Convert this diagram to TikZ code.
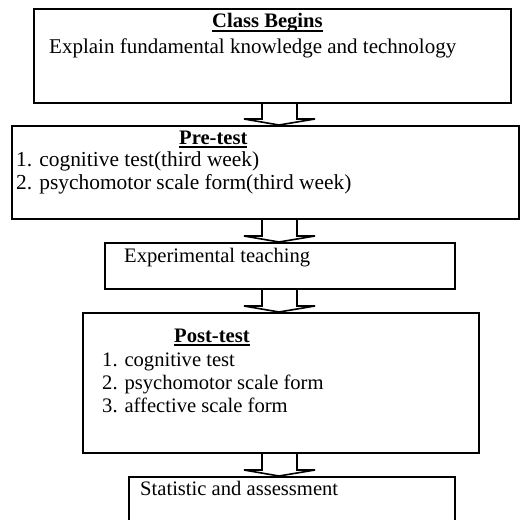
\documentclass[tikz,border=0pt]{standalone}
\usepackage{fontspec}
\setmainfont{Liberation Serif}
\newcommand\ulx[1]{\setbox0\hbox{#1}\rlap{\rule[-3.5pt]{\wd0}{1.4pt}}\box0}
\begin{document}
\begin{tikzpicture}[x=1pt,y=-1pt,
  box/.style={draw=black,line width=1.6pt,anchor=north west,inner sep=0pt,minimum width=#1},
  txt/.style={anchor=base west,inner sep=0pt,font=\fontsize{20.6}{23.5}\selectfont},
  bigtxt/.style={txt,font=\fontsize{21.4}{24}\selectfont},
  blockarrow/.style={draw=black,line width=1.6pt,line join=miter}]
\useasboundingbox (0,0) rectangle (521,519);
\clip (0,0) rectangle (521,519);
% boxes
\node[box=477pt,minimum height=94pt] (b1) at (33,8) {};
\node[box=507pt,minimum height=93pt] (b2) at (11,125) {};
\node[box=350pt,minimum height=46pt] (b3) at (104,242) {};
\node[box=396pt,minimum height=140pt] (b4) at (82,312) {};
\node[box=326pt,minimum height=80pt] (b5) at (128,476) {};
% texts
\node[txt] (t1) at (212,28) {\bfseries\ulx{Class Begins}};
\node[txt,font=\fontsize{21}{24}\selectfont] (t2) at (49,53) {Explain fundamental knowledge and technology};
\node[txt] (t3) at (179,144) {\bfseries\ulx{Pre-test}};
\node[bigtxt] (t4) at (16,166) {1. cognitive test(third week)};
\node[bigtxt] (t5) at (16,189) {2. psychomotor scale form(third week)};
\node[txt] (t6) at (124,262) {Experimental teaching};
\node[txt] (t7) at (174,342) {\bfseries\ulx{Post-test}};
\node[txt] (t8) at (102,366) {1. cognitive test};
\node[txt] (t9) at (102,389) {2. psychomotor scale form};
\node[txt] (t10) at (102,412) {3. affective scale form};
\node[txt] (t11) at (140,495) {Statistic and assessment};
% block arrows between boxes
\foreach \a/\b in {b1/b2,b2/b3,b3/b4,b4/b5}{
  \path (\a.south) coordinate (top) (\b.north) coordinate (bot);
  \path (bot) ++(0,-6) coordinate (wl);
  \draw[blockarrow] (262,0 |- top) -- (262,0 |- wl) -- (244,0 |- wl) -- (279,0 |- bot) -- (315,0 |- wl) -- (297,0 |- wl) -- (297,0 |- top);
}
\end{tikzpicture}
\end{document}
